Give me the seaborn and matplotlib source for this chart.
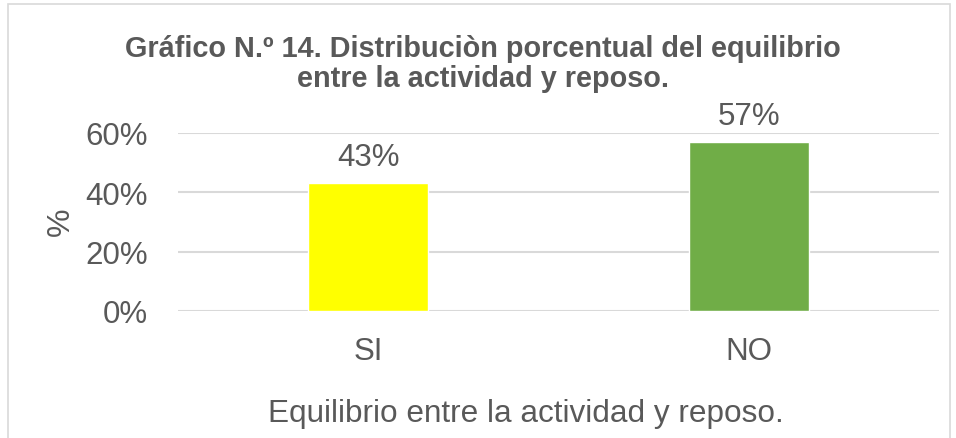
import matplotlib
matplotlib.use("Agg")
import matplotlib.pyplot as plt
import seaborn as sns
import pandas as pd
from matplotlib.patches import Rectangle
from matplotlib.ticker import PercentFormatter

# data
categorias = ["SI", "NO"]
porcentajes = [0.43, 0.57]
colores = ["#FFFF00", "#70AD47"]
etiquetas = ["43%", "57%"]

sns.set_theme(style="white")
plt.rcParams["font.family"] = ["Liberation Sans", "DejaVu Sans"]

gris = "#595959"
df = pd.DataFrame({"cat": categorias, "val": porcentajes})

fig = plt.figure(figsize=(9.56, 4.39), dpi=100)
ax = fig.add_axes([178 / 956, 1 - 312 / 439, 761 / 956, 178 / 439])

sns.barplot(data=df, x="cat", y="val", hue="cat", palette=colores,
            width=0.315, legend=False, ax=ax, saturation=1)

ax.set_ylim(0, 0.6)
ax.set_xlim(-0.5, 1.5)
ax.set_yticks([0, 0.2, 0.4, 0.6])
ax.yaxis.set_major_formatter(PercentFormatter(1.0, decimals=0))
ax.yaxis.grid(True, color="#D9D9D9", linewidth=1.5)
ax.set_axisbelow(True)
for s in ax.spines.values():
    s.set_visible(False)
ax.tick_params(axis="y", length=0, pad=21.5, labelsize=22.5, labelcolor=gris)
ax.tick_params(axis="x", length=0, pad=18, labelsize=22.5, labelcolor=gris)

# data labels above bars
for i, v in enumerate(porcentajes):
    ax.annotate(etiquetas[i], (i, v), xytext=(0, 8), textcoords="offset points",
                ha="center", va="bottom", fontsize=22.5, color=gris)

ax.set_xlabel("Equilibrio entre la actividad y reposo.", fontsize=22.7,
              color=gris, va="center")
ax.xaxis.set_label_coords(526 / 956, 1 - 414 / 439, transform=fig.transFigure)
ax.set_ylabel("%", fontsize=23, color=gris, va="center")
ax.yaxis.set_label_coords(61 / 956, 1 - 222 / 439, transform=fig.transFigure)

fig.text(483 / 956, 1 - 64 / 439,
         "Gráfico N.º 14. Distribuciòn porcentual del equilibrio\nentre la actividad y reposo.",
         ha="center", va="center", fontsize=20.8, fontweight="bold", color=gris,
         linespacing=1.07)

# chart border
fig.patches.append(Rectangle((8 / 956, -0.02), 942 / 956, 1 - 5 / 439 + 0.02,
                             transform=fig.transFigure, fill=False,
                             edgecolor="#D9D9D9", linewidth=1.2))

fig.savefig("out.png", dpi=100)
